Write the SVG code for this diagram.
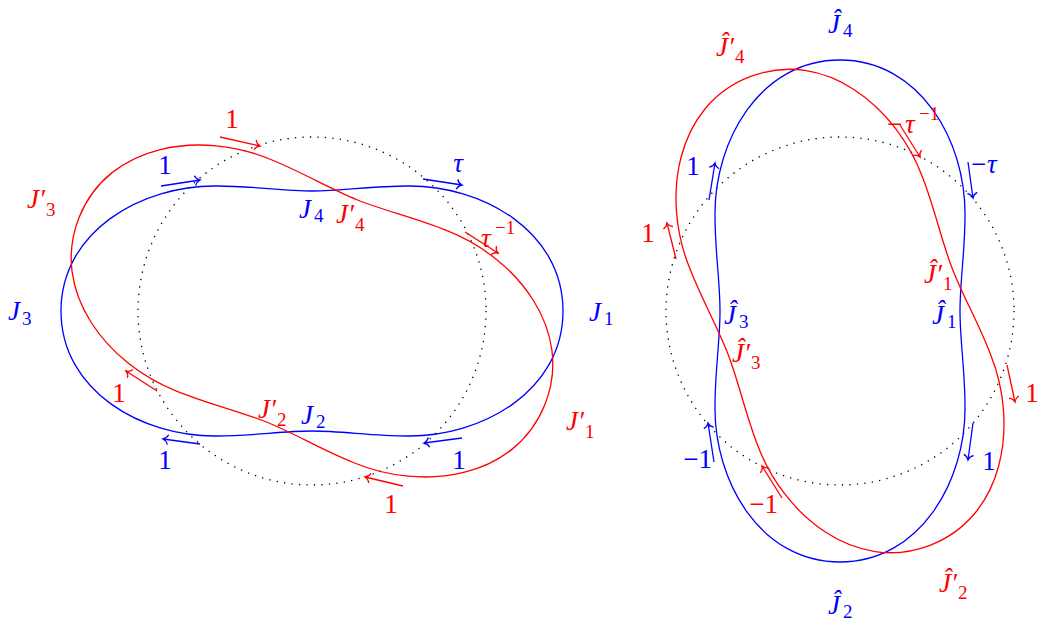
<svg xmlns="http://www.w3.org/2000/svg" xmlns:xlink="http://www.w3.org/1999/xlink" width="1041" height="626" viewBox="0 0 1041 626">
<style>
.b{stroke:#0000ff;fill:none;stroke-width:1.3}
.r{stroke:#ff0000;fill:none;stroke-width:1.3}
.dot{stroke:#000;fill:none;stroke-width:1.3;stroke-dasharray:1.3 6.2}
text{font-family:"Liberation Serif","Times New Roman",serif;font-size:27px}
.tb{fill:#0000ff}
.tr{fill:#ff0000}
.i{font-style:italic}
.s{font-size:19px}
.ab{stroke:#0000ff;fill:none;stroke-width:1.3;marker-end:url(#hb)}
.ar{stroke:#ff0000;fill:none;stroke-width:1.3;marker-end:url(#hr)}
</style>
<defs>
<path id="shape" d="M251,0 C251,-80 170,-126 95,-125 C60,-125 30,-120 0,-120 C-30,-120 -60,-125 -95,-125 C-170,-126 -251,-80 -251,0 C-251,80 -170,126 -95,125 C-60,125 -30,120 0,120 C30,120 60,125 95,125 C170,126 251,80 251,0 Z"/>
<marker id="hb" markerUnits="userSpaceOnUse" markerWidth="14" markerHeight="14" viewBox="-7 -7 14 14" refX="0" refY="0" orient="auto" overflow="visible">
<path d="M-5,-5 C-4,-2 -1.5,-0.5 0,0 C-1.5,0.5 -4,2 -5,5" stroke="#0000ff" fill="none" stroke-width="1.3"/>
</marker>
<marker id="hr" markerUnits="userSpaceOnUse" markerWidth="14" markerHeight="14" viewBox="-7 -7 14 14" refX="0" refY="0" orient="auto" overflow="visible">
<path d="M-5,-5 C-4,-2 -1.5,-0.5 0,0 C-1.5,0.5 -4,2 -5,5" stroke="#ff0000" fill="none" stroke-width="1.3"/>
</marker>
</defs>
<rect width="1041" height="626" fill="#fff"/>

<!-- Left figure -->
<g id="left-circle"><circle class="dot" cx="312" cy="311" r="174"/></g>
<g id="J-left-blue">
<use xlink:href="#shape" href="#shape" class="b" transform="translate(312,311)"/>
</g>
<g id="J-left-red">
<use xlink:href="#shape" href="#shape" class="r" transform="translate(312,311) rotate(22)"/>
</g>

<!-- Right figure -->
<g id="right-circle"><circle class="dot" cx="840" cy="311" r="174"/></g>
<g id="Jhat-right-blue">
<use xlink:href="#shape" href="#shape" class="b" transform="translate(840,311) rotate(90)"/>
</g>
<g id="Jhat-right-red">
<use xlink:href="#shape" href="#shape" class="r" transform="translate(840,311) rotate(69)"/>
</g>

<g id="connectors">
<line class="ab" x1="161" y1="186" x2="200" y2="180"/>
<line class="ar" x1="220" y1="137" x2="260" y2="146"/>
<line class="ab" x1="423" y1="179" x2="462" y2="185"/>
<line class="ar" x1="465" y1="232" x2="498" y2="253"/>
<line class="ar" x1="157" y1="391" x2="126" y2="371"/>
<line class="ab" x1="200" y1="444" x2="163" y2="439"/>
<line class="ab" x1="462" y1="438" x2="424" y2="443"/>
<line class="ar" x1="403" y1="486" x2="365" y2="477"/>

<line class="ab" x1="709" y1="200" x2="715" y2="163"/>
<line class="ar" x1="676" y1="259" x2="667" y2="223"/>
<line class="ar" x1="900" y1="125" x2="920" y2="157"/>
<line class="ab" x1="968" y1="162" x2="973" y2="198"/>
<line class="ar" x1="1007" y1="365" x2="1015" y2="402"/>
<line class="ab" x1="973" y1="423" x2="968" y2="460"/>
<line class="ab" x1="714" y1="462" x2="708" y2="423"/>
<line class="ar" x1="782" y1="498" x2="762" y2="466"/>
</g>

<g id="labels-left">
<text class="tb" x="165" y="174" text-anchor="middle">1</text>
<text class="tr" x="232" y="128" text-anchor="middle">1</text>
<text class="tb i" x="458" y="172" text-anchor="middle">τ</text>
<text class="tr"><tspan class="i" x="481" y="247">τ</tspan><tspan class="s" x="495" y="234">−1</tspan></text>
<text class="tr" x="119" y="402" text-anchor="middle">1</text>
<text class="tb" x="165" y="469" text-anchor="middle">1</text>
<text class="tb" x="459" y="469" text-anchor="middle">1</text>
<text class="tr" x="391" y="513" text-anchor="middle">1</text>

<text class="tb"><tspan class="i" x="8" y="320">J</tspan><tspan class="s" x="22" y="325">3</tspan></text>
<text class="tr"><tspan class="i" x="27" y="208">J′</tspan><tspan class="s" dx="1" y="216">3</tspan></text>
<text class="tb"><tspan class="i" x="299" y="218">J</tspan><tspan class="s" x="314" y="222">4</tspan></text>
<text class="tr"><tspan class="i" x="336" y="223">J′</tspan><tspan class="s" dx="1" y="231">4</tspan></text>
<text class="tb"><tspan class="i" x="589" y="321">J</tspan><tspan class="s" x="604" y="325">1</tspan></text>
<text class="tr"><tspan class="i" x="566" y="430">J′</tspan><tspan class="s" dx="1" y="438">1</tspan></text>
<text class="tr"><tspan class="i" x="258" y="418">J′</tspan><tspan class="s" dx="1" y="426">2</tspan></text>
<text class="tb"><tspan class="i" x="301" y="424">J</tspan><tspan class="s" x="316" y="428">2</tspan></text>
</g>

<g id="labels-right">
<text class="tb" x="693" y="175" text-anchor="middle">1</text>
<text class="tr" x="648" y="242" text-anchor="middle">1</text>
<text class="tr"><tspan x="887" y="133">−</tspan><tspan class="i" x="905" y="133">τ</tspan><tspan class="s" x="919" y="120">−1</tspan></text>
<text class="tb"><tspan x="971" y="173">−</tspan><tspan class="i" x="987" y="173">τ</tspan></text>
<text class="tr" x="1032" y="402" text-anchor="middle">1</text>
<text class="tb" x="989" y="470" text-anchor="middle">1</text>
<text class="tb" x="712" y="468" text-anchor="end">−1</text>
<text class="tr" x="778" y="513" text-anchor="end">−1</text>

<text class="tb"><tspan class="i" x="828" y="33">Ĵ</tspan><tspan class="s" x="843" y="37">4</tspan></text>
<text class="tr"><tspan class="i" x="716" y="56">Ĵ′</tspan><tspan class="s" dx="1" y="63">4</tspan></text>
<text class="tr"><tspan class="i" x="924" y="283">Ĵ′</tspan><tspan class="s" dx="1" y="290">1</tspan></text>
<text class="tb"><tspan class="i" x="932" y="324">Ĵ</tspan><tspan class="s" x="947" y="328">1</tspan></text>
<text class="tb"><tspan class="i" x="724" y="324">Ĵ</tspan><tspan class="s" x="739" y="328">3</tspan></text>
<text class="tr"><tspan class="i" x="732" y="362">Ĵ′</tspan><tspan class="s" dx="1" y="369">3</tspan></text>
<text class="tr"><tspan class="i" x="939" y="592">Ĵ′</tspan><tspan class="s" dx="1" y="599">2</tspan></text>
<text class="tb"><tspan class="i" x="828" y="614">Ĵ</tspan><tspan class="s" x="843" y="618">2</tspan></text>
</g>
</svg>
